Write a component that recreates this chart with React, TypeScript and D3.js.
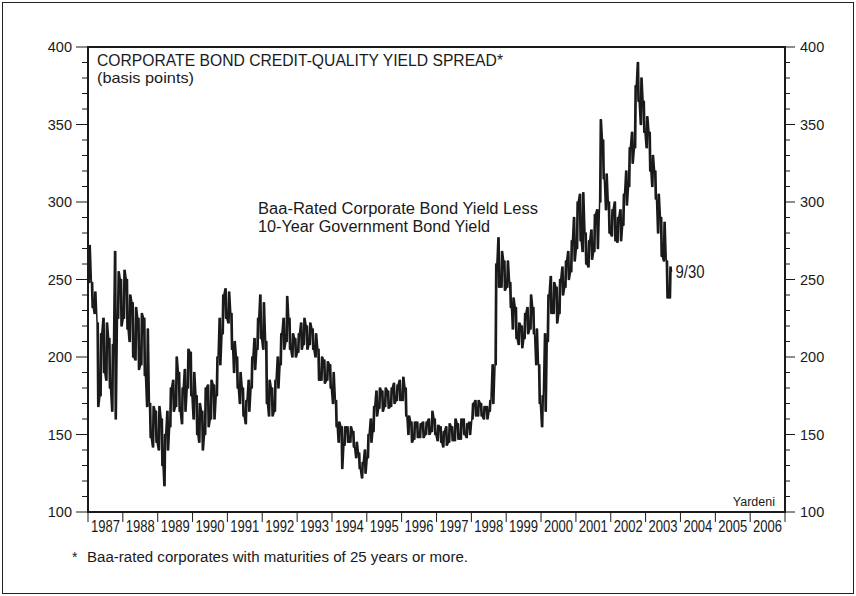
import React from "react";
import * as d3 from "d3";

// ---------------- DATA ----------------
const START_YEAR = 1987;
const yearLabels = [
  "1987", "1988", "1989", "1990", "1991", "1992", "1993", "1994", "1995", "1996",
  "1997", "1998", "1999", "2000", "2001", "2002", "2003", "2004", "2005", "2006",
];
const yTicks = [100, 150, 200, 250, 300, 350, 400];

// Monthly high / low of the daily spread (basis points), Jan 1987 .. Sep 2003
const spreadHigh = [
  // 1987
  272, 248, 242, 222, 215, 225, 222, 212, 208, 268, 255, 250,
  // 1988
  256, 250, 240, 235, 232, 225, 228, 225, 218, 170, 168, 165,
  // 1989
  168, 160, 150, 165, 180, 185, 200, 190, 180, 192, 205, 203,
  // 1990
  190, 175, 170, 165, 180, 182, 185, 182, 200, 225, 240, 244,
  // 1991
  242, 228, 210, 200, 190, 180, 172, 185, 200, 212, 225, 240,
  // 1992
  235, 210, 185, 180, 185, 200, 215, 225, 239, 225, 215, 212,
  // 1993
  215, 222, 225, 220, 222, 218, 215, 205, 200, 198, 197, 195,
  // 1994
  190, 172, 158, 155, 155, 155, 155, 152, 145, 138, 132, 140,
  // 1995
  150, 160, 168, 178, 180, 178, 180, 178, 180, 183, 182, 185,
  // 1996
  187, 180, 162, 158, 158, 158, 157, 158, 158, 160, 165, 160,
  // 1997
  156, 155, 152, 155, 157, 155, 160, 157, 160, 160, 157, 158,
  // 1998
  170, 172, 172, 170, 168, 168, 172, 195, 260, 277, 268, 262,
  // 1999
  262, 248, 238, 232, 222, 220, 228, 232, 240, 232, 218, 195,
  // 2000
  175, 215, 240, 252, 248, 245, 250, 258, 262, 268, 275, 290,
  // 2001
  300, 305, 306, 280, 275, 282, 292, 295, 353, 340, 318, 300,
  // 2002
  295, 300, 290, 295, 305, 320, 335, 345, 375, 390, 380, 365,
  // 2003
  355, 345, 330, 320, 305, 290, 287, 262, 258,
];
const spreadLow = [
  // 1987
  248, 232, 228, 168, 175, 190, 185, 180, 165, 160, 225, 220,
  // 1988
  225, 218, 210, 200, 198, 192, 195, 188, 168, 148, 142, 145,
  // 1989
  140, 130, 117, 140, 155, 165, 168, 165, 157, 165, 180, 175,
  // 1990
  160, 150, 145, 140, 150, 155, 160, 160, 175, 195, 215, 225,
  // 1991
  222, 205, 190, 180, 170, 162, 157, 165, 180, 192, 205, 212,
  // 1992
  205, 170, 162, 162, 165, 180, 195, 205, 210, 205, 200, 200,
  // 1993
  203, 205, 208, 205, 208, 205, 200, 185, 185, 183, 185, 180,
  // 1994
  170, 155, 145, 128, 143, 145, 145, 142, 135, 128, 122, 125,
  // 1995
  135, 145, 152, 162, 167, 165, 168, 167, 168, 170, 172, 172,
  // 1996
  172, 162, 150, 145, 147, 148, 148, 148, 150, 150, 152, 150,
  // 1997
  146, 145, 142, 143, 145, 146, 146, 147, 147, 150, 148, 150,
  // 1998
  160, 162, 162, 162, 160, 160, 165, 170, 195, 245, 245, 243,
  // 1999
  245, 232, 218, 212, 208, 206, 212, 215, 218, 215, 195, 170,
  // 2000
  155, 165, 210, 228, 228, 222, 228, 240, 245, 250, 255, 262,
  // 2001
  270, 275, 268, 260, 258, 263, 268, 270, 300, 315, 295, 280,
  // 2002
  278, 275, 274, 275, 285, 298, 310, 325, 335, 365, 350, 345,
  // 2003
  335, 320, 310, 302, 280, 265, 262, 238, 238,
];
const lastValueLabel = "9/30";
const lastValue = 255;

const titleLines = ["CORPORATE BOND CREDIT-QUALITY YIELD SPREAD*", "(basis points)"];
const annotationLines = ["Baa-Rated Corporate Bond Yield Less", "10-Year Government Bond Yield"];
const footnote = "Baa-rated corporates with maturities of 25 years or more.";
const sourceLabel = "Yardeni";

// ---------------- LAYOUT ----------------
const W = 856;
const H = 596;
const M = { left: 88, right: 785, top: 47, bottom: 512 };
const FONT = "'Liberation Sans', Arial, Helvetica, sans-serif";
const INK = "#1a1a1a";

export default function App() {
  const x = d3
    .scaleTime()
    .domain([new Date(START_YEAR, 0, 1), new Date(START_YEAR + yearLabels.length, 0, 1)])
    .range([M.left, M.right]);
  const y = d3.scaleLinear().domain([100, 400]).range([M.bottom, M.top]);

  // zig-zag through monthly low/high to mimic the daily noise band
  const pts: [Date, number][] = [];
  spreadHigh.forEach((hi, i) => {
    const yr = START_YEAR + Math.floor(i / 12);
    const mo = i % 12;
    const lo = spreadLow[i];
    const a = i % 2 === 0 ? lo : hi;
    const b = i % 2 === 0 ? hi : lo;
    pts.push([new Date(yr, mo, 6), a]);
    pts.push([new Date(yr, mo, 13), b]);
    pts.push([new Date(yr, mo, 19), a]);
    pts.push([new Date(yr, mo, 25), b]);
  });
  pts.push([new Date(2003, 8, 30), lastValue]);

  const line = d3
    .line<[Date, number]>()
    .x((d) => x(d[0]))
    .y((d) => y(d[1]));

  const minorTicks = d3.range(100, 401, 10).filter((v) => v % 50 !== 0);
  const yearStarts = d3.range(yearLabels.length + 1).map((k) => new Date(START_YEAR + k, 0, 1));

  return (
    <svg
      width={W}
      height={H}
      style={{ position: "absolute", left: 0, top: 0, background: "#fff" }}
      fontFamily={FONT}
    >
      <rect x={0} y={0} width={W} height={H} fill="#fff" />
      <rect x={2.5} y={2.5} width={W - 5} height={H - 5} fill="none" stroke="#222" strokeWidth={1} />

      {/* data line */}
      <path d={line(pts) || ""} fill="none" stroke={INK} strokeWidth={1.5} strokeLinejoin="round" />

      {/* frame */}
      <rect
        x={M.left}
        y={M.top}
        width={M.right - M.left}
        height={M.bottom - M.top}
        fill="none"
        stroke={INK}
        strokeWidth={2}
      />

      {/* y axes */}
      {yTicks.map((v) => (
        <g key={"yt" + v}>
          <line x1={M.left - 12} x2={M.left} y1={y(v)} y2={y(v)} stroke={INK} strokeWidth={1} />
          <line x1={M.right} x2={M.right + 10} y1={y(v)} y2={y(v)} stroke={INK} strokeWidth={1} />
          <text x={M.left - 16} y={y(v)} dy="0.36em" textAnchor="end" fontSize={14.5} fill={INK}>
            {v}
          </text>
          <text x={M.right + 15} y={y(v)} dy="0.36em" textAnchor="start" fontSize={14.5} fill={INK}>
            {v}
          </text>
        </g>
      ))}
      {minorTicks.map((v) => (
        <g key={"ym" + v}>
          <line x1={M.left - 6} x2={M.left} y1={y(v)} y2={y(v)} stroke={INK} strokeWidth={1} />
          <line x1={M.right} x2={M.right + 5} y1={y(v)} y2={y(v)} stroke={INK} strokeWidth={1} />
        </g>
      ))}

      {/* x axis */}
      {yearStarts.map((d, k) => (
        <line key={"xt" + k} x1={x(d)} x2={x(d)} y1={M.bottom} y2={M.bottom + 10} stroke={INK} strokeWidth={1} />
      ))}
      {yearLabels.map((lab, k) => {
        const cx = (x(yearStarts[k]) + x(yearStarts[k + 1])) / 2;
        return (
          <text
            key={"xl" + lab}
            x={cx - 14.5}
            y={M.bottom + 20}
            fontSize={16.5}
            textLength={29}
            lengthAdjust="spacingAndGlyphs"
            fill={INK}
          >
            {lab}
          </text>
        );
      })}

      {/* titles */}
      <text x={97} y={66} fontSize={16} textLength={406} lengthAdjust="spacingAndGlyphs" fill={INK}>
        {titleLines[0]}
      </text>
      <text x={97} y={83} fontSize={14.5} textLength={97} lengthAdjust="spacingAndGlyphs" fill={INK}>
        {titleLines[1]}
      </text>

      {/* annotation */}
      <text x={258} y={214} fontSize={16} textLength={280} lengthAdjust="spacingAndGlyphs" fill={INK}>
        {annotationLines[0]}
      </text>
      <text x={258} y={232} fontSize={16} textLength={232} lengthAdjust="spacingAndGlyphs" fill={INK}>
        {annotationLines[1]}
      </text>

      <text
        x={x(new Date(2003, 8, 30)) + 4}
        y={y(lastValue)}
        dy="0.36em"
        fontSize={17.5}
        textLength={29}
        lengthAdjust="spacingAndGlyphs"
        fill={INK}
      >
        {lastValueLabel}
      </text>

      <text x={M.right - 10} y={506} textAnchor="end" fontSize={12.5} fill={INK}>
        {sourceLabel}
      </text>

      {/* footnote */}
      <text x={72} y={562} fontSize={14} fill={INK}>
        *
      </text>
      <text x={87} y={562} fontSize={14} textLength={381} lengthAdjust="spacingAndGlyphs" fill={INK}>
        {footnote}
      </text>
    </svg>
  );
}
